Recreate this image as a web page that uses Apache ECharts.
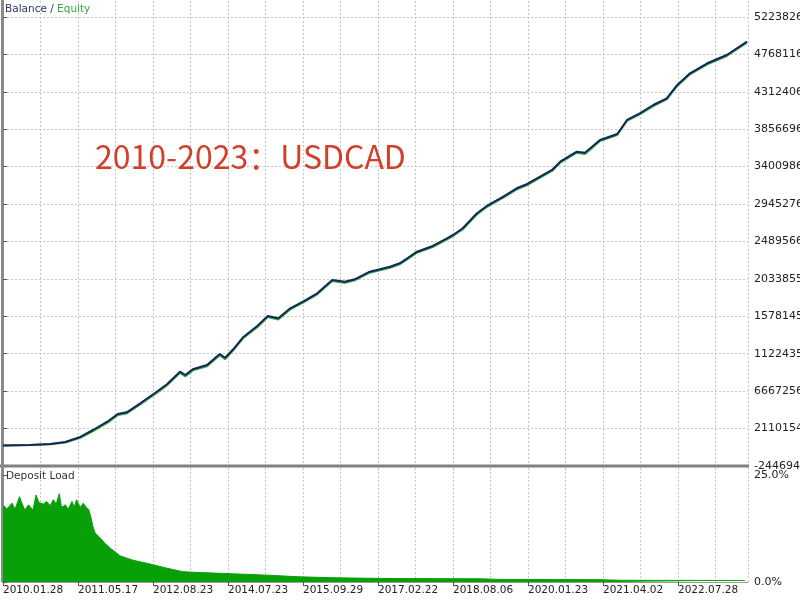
<!DOCTYPE html>
<html>
<head>
<meta charset="utf-8">
<title>Balance / Equity</title>
<script src="https://cdn.jsdelivr.net/npm/echarts@6/dist/echarts.min.js"></script>
<style>
  html, body { margin: 0; padding: 0; background: #fff; }
  #main { width: 800px; height: 600px; }
</style>
</head>
<body>
<div id="main"></div>
<script>
// trade number (x) -> balance / equity
var tradeNo = [0, 36, 63, 83, 103, 120, 139, 153, 165, 183, 205, 219, 236, 243, 253, 272, 289, 296, 307, 320,
  339, 353, 367, 383, 400, 419, 439, 456, 469, 489, 516, 529, 539, 552, 573, 592, 600, 613, 632, 645,
  667, 685, 699, 732, 743, 765, 776, 796, 819, 832, 849, 867, 885, 899, 916, 939, 965, 992];
var balance = [50000, 110000, 232000, 476000, 1085000, 1937000, 2948000, 3886000, 4093000, 5189000,
  6601000, 7539000, 9037000, 8635000, 9329000, 9853000, 11193000, 10742000, 11765000, 13226000,
  14603000, 15820000, 15540000, 16758000, 17562000, 18585000, 20205000, 19997000, 20290000, 21215000,
  21824000, 22238000, 22847000, 23651000, 24345000, 25283000, 25685000, 26501000, 28327000, 29216000,
  30349000, 31372000, 31896000, 33601000, 34611000, 35829000, 35707000, 37254000, 37985000, 39690000,
  40506000, 41516000, 42332000, 43952000, 45377000, 46595000, 47605000, 49225000];
var equity = [50000, 100000, 200000, 420000, 980000, 1800000, 2800000, 3750000, 3950000, 5050000,
  6450000, 7400000, 8900000, 8450000, 9200000, 9700000, 11050000, 10550000, 11650000, 13100000,
  14450000, 15700000, 15380000, 16620000, 17440000, 18460000, 20080000, 19850000, 20160000, 21090000,
  21700000, 22120000, 22720000, 23530000, 24220000, 25160000, 25560000, 26380000, 28200000, 29090000,
  30220000, 31250000, 31770000, 33480000, 34490000, 35700000, 35560000, 37130000, 37860000, 39570000,
  40380000, 41390000, 42210000, 43830000, 45250000, 46470000, 47480000, 49100000];

// deposit load in %
var loadNo = [0, 5, 12, 16, 22, 25, 29, 34, 40, 44, 48, 54, 58, 63, 67, 71, 75, 78, 83, 87,
  92, 95, 98, 103, 107, 111, 114, 117, 120, 123, 129, 136, 143, 149, 156, 173, 196, 219, 240, 263,
  307, 352, 396, 440, 489, 529, 636, 663, 796, 823, 989];
var depositLoad = [18.0, 17.0, 18.4, 17.0, 19.9, 18.5, 16.8, 18.0, 16.8, 20.3, 18.5, 18.2, 18.8, 17.8, 19.2, 18.2, 20.6, 17.4, 18.0, 17.0,
  18.8, 17.4, 19.2, 17.4, 18.4, 17.4, 17.0, 15.3, 12.9, 11.4, 10.4, 9.0, 7.9, 7.1, 6.1, 5.1, 4.2, 3.2, 2.4, 2.2,
  1.9, 1.6, 1.2, 1.0, 0.86, 0.8, 0.75, 0.6, 0.55, 0.4, 0.35];

// tick labels
var dateTicks = ['2010.01.28', '2011.05.17', '2012.08.23', '2014.07.23', '2015.09.29',
  '2017.02.22', '2018.08.06', '2020.01.23', '2021.04.02', '2022.07.28'];
var balanceTicks = [-2446947, 2110154, 6667256, 11224357, 15781458, 20338559, 24895660,
  29452762, 34009863, 38566964, 43124066, 47681167, 52238268];
var loadTicks = [0, 25];

var fontFam = "'DejaVu Sans', sans-serif";
var gridLine = { show: true, lineStyle: { color: '#c6c6c6', type: [2, 2], width: 1 } };

var chart = echarts.init(document.getElementById('main'));

function pairs(xs, ys) {
  return xs.map(function (x, i) { return [x, ys[i]]; });
}

var option = {
  backgroundColor: '#ffffff',
  animation: false,
  title: {
    text: '2010-2023：USDCAD',
    left: 90, top: 136,
    textStyle: { fontFamily: "'Noto Sans CJK SC', sans-serif", fontSize: 32, fontWeight: 'normal', color: '#d1402b' }
  },
  grid: [
    { left: 3, right: 52, top: 1, height: 465, outerBoundsMode: 'none', containLabel: false },
    { left: 3, right: 52, top: 468, height: 114, outerBoundsMode: 'none', containLabel: false }
  ],
  xAxis: [
    {
      gridIndex: 0, type: 'value', min: 0, max: 993.33, interval: 100,
      axisLine: { show: false }, axisTick: { show: false }, axisLabel: { show: false },
      splitLine: gridLine, minorTick: { show: false, splitNumber: 2 }, minorSplitLine: gridLine
    },
    {
      gridIndex: 1, type: 'value', min: 0, max: 993.33, interval: 100,
      axisLine: { show: true, lineStyle: { color: '#9a9a9a', width: 1 } },
      axisTick: { show: true, length: 4, lineStyle: { color: '#555' } },
      axisLabel: {
        show: true, align: 'left', margin: 3, color: '#222', fontSize: 10.5, fontFamily: fontFam,
        showMaxLabel: false,
        formatter: function (v) {
          var i = Math.round(v / 100);
          return dateTicks[i] || '';
        }
      },
      splitLine: gridLine, minorTick: { show: false, splitNumber: 2 }, minorSplitLine: gridLine
    }
  ],
  yAxis: [
    {
      gridIndex: 0, type: 'value', position: 'right',
      min: -2446947, max: 54180000,
      axisLine: { show: true, lineStyle: { color: '#8a8a8a', width: 2 } },
      axisTick: { show: true, length: 4, customValues: balanceTicks, lineStyle: { color: '#555' } },
      axisLabel: {
        show: true, margin: 6, color: '#222', fontSize: 11, fontFamily: fontFam,
        customValues: balanceTicks,
        formatter: function (v) { return String(Math.round(v)); }
      },
      splitLine: gridLine
    },
    {
      gridIndex: 1, type: 'value', position: 'right',
      min: 0, max: 26.6,
      axisLine: { show: true, lineStyle: { color: '#8a8a8a', width: 2 } },
      axisTick: { show: true, length: 4, customValues: loadTicks, lineStyle: { color: '#555' } },
      axisLabel: {
        show: true, margin: 6, color: '#222', fontSize: 11, fontFamily: fontFam,
        customValues: loadTicks,
        formatter: function (v) { return v.toFixed(1) + '%'; }
      },
      splitLine: { show: false }
    }
  ],
  series: [
    {
      name: 'Equity', type: 'line', xAxisIndex: 0, yAxisIndex: 0,
      data: pairs(tradeNo, equity), showSymbol: false, z: 2,
      lineStyle: { color: '#3aa83a', width: 2 }
    },
    {
      name: 'Balance', type: 'line', xAxisIndex: 0, yAxisIndex: 0,
      data: pairs(tradeNo, balance), showSymbol: false, z: 3,
      lineStyle: { color: '#10275c', width: 2 }
    },
    {
      name: 'Deposit Load', type: 'line', xAxisIndex: 1, yAxisIndex: 1,
      data: pairs(loadNo, depositLoad), showSymbol: false,
      lineStyle: { color: '#08a008', width: 1 },
      areaStyle: { color: '#08a008', opacity: 1 }
    }
  ],
  graphic: [
    {
      type: 'text', left: 5, top: 3, z: 10,
      style: {
        text: '{b|Balance} {b|/} {e|Equity}',
        rich: {
          b: { fill: '#2b3472', fontSize: 10.5, fontFamily: fontFam },
          e: { fill: '#3aa83a', fontSize: 10.5, fontFamily: fontFam }
        }
      }
    },
    {
      type: 'text', left: 6, top: 471, z: 10,
      style: { text: 'Deposit Load', fill: '#333', fontSize: 10.5, fontFamily: fontFam }
    },
    {
      type: 'line', z: 20,
      shape: { x1: 0, y1: 466, x2: 749, y2: 466 },
      style: { stroke: '#808080', lineWidth: 3 }
    },
    {
      type: 'line', z: 20,
      shape: { x1: 2, y1: 0, x2: 2, y2: 582 },
      style: { stroke: '#8a8a8a', lineWidth: 2 }
    }
  ]
};

chart.setOption(option);
</script>
</body>
</html>
